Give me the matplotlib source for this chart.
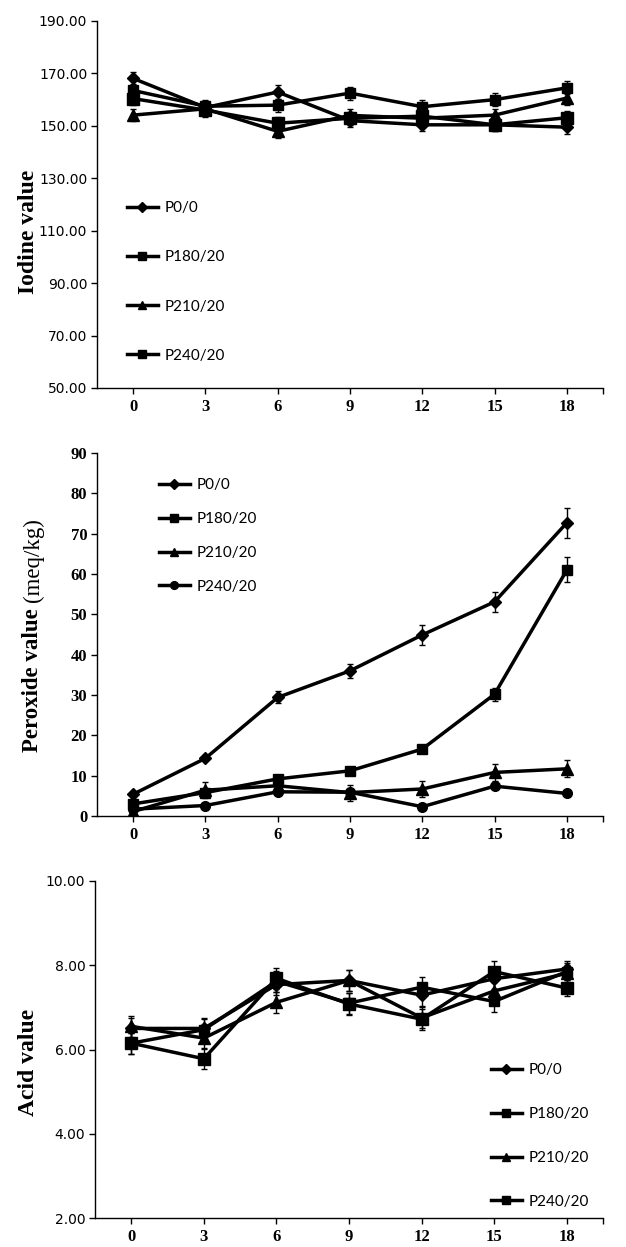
import matplotlib
matplotlib.use("Agg")
import matplotlib.pyplot as plt
from matplotlib.lines import Line2D
from matplotlib.offsetbox import TextArea, VPacker, AnchoredOffsetbox

W, H = 626, 1247

days = [0, 3, 6, 9, 12, 15, 18]
series = ["P0/0", "P180/20", "P210/20", "P240/20"]

# Iodine value
iod_p0 = [168.1, 157.0, 162.9, 152.0, 150.4, 150.4, 149.5]
iod_p180 = [163.5, 157.5, 157.9, 162.5, 157.3, 160.0, 164.5]
iod_p210 = [154.1, 156.5, 147.9, 154.0, 152.9, 154.1, 160.6]
iod_p240 = [160.4, 156.0, 151.0, 152.9, 153.7, 150.4, 153.1]
iod_err = [2.4, 2.5, 2.5, 2.5, 2.5, 2.5, 2.5]

# Peroxide value
per_p0 = [5.4, 14.3, 29.4, 36.0, 44.9, 53.1, 72.7]
per_p180 = [3.0, 5.8, 9.2, 11.2, 16.6, 30.2, 61.0]
per_p210 = [1.1, 6.4, 7.5, 5.8, 6.7, 10.8, 11.7]
per_p240 = [1.7, 2.6, 6.0, 5.9, 2.3, 7.4, 5.6]
per_p0_err = [0.4, 0.5, 1.5, 1.8, 2.4, 2.5, 3.7]
per_p180_err = [0.4, 0.4, 0.5, 0.5, 0.6, 1.6, 3.1]
per_p210_err = [0.5, 2.0, 1.0, 2.0, 2.1, 2.2, 2.1]
per_p240_err = [0.3, 0.3, 0.4, 0.4, 0.3, 0.4, 0.3]

# Acid value
acid_p0 = [6.50, 6.50, 7.54, 7.64, 7.29, 7.68, 7.91]
acid_p180 = [6.15, 6.47, 7.62, 7.10, 7.48, 7.14, 7.85]
acid_p210 = [6.55, 6.27, 7.12, 7.64, 6.75, 7.39, 7.81]
acid_p240 = [6.15, 5.78, 7.69, 7.08, 6.72, 7.85, 7.46]
acid_err = [0.25, 0.25, 0.25, 0.25, 0.25, 0.25, 0.2]

fig = plt.figure(figsize=(W / 100, H / 100), dpi=100)


def add_ax(left, right, top, bottom):
    return fig.add_axes([left / W, 1 - bottom / H, (right - left) / W, (bottom - top) / H])


serif_bold = dict(family="Liberation Serif", weight="bold")


def style(ax, ylim, yticks, yfmt, yfont):
    ax.set_xlim(-1.5, 19.5)
    ax.set_ylim(*ylim)
    ax.set_xticks(days)
    ax.set_xticks([19.5], minor=True)
    ax.set_xticklabels([str(d) for d in days], fontsize=12, **serif_bold)
    ax.set_yticks(yticks)
    ax.set_yticklabels([yfmt.format(v) for v in yticks], **yfont)
    for s in ("top", "right"):
        ax.spines[s].set_visible(False)
    for s in ("left", "bottom"):
        ax.spines[s].set_linewidth(1.0)
    ax.tick_params(axis="both", which="both", direction="out", length=4, width=1, colors="black")
    ax.tick_params(axis="x", pad=4)
    ax.tick_params(axis="y", pad=3)


def draw(ax, ys, errs, markers, sizes):
    for y, e, m, ms, lab in zip(ys, errs, markers, sizes, series):
        ax.errorbar(days, y, yerr=e, fmt="none", ecolor="black", elinewidth=1.0,
                    capsize=2.5, capthick=1.0, zorder=2)
        ax.plot(days, y, color="black", lw=2.5, marker=m, ms=ms, mfc="black",
                mec="black", label=lab, zorder=3)


def legend(ax, markers, sizes, left, center, spacing):
    handles = [Line2D([0], [0], color="black", lw=2.5, marker=m, ms=ms * 0.8)
               for m, ms in zip(markers, sizes)]
    ax.legend(handles, series, loc="center left",
              bbox_to_anchor=(left / W, 1 - center / H), bbox_transform=fig.transFigure,
              frameon=False, prop=dict(family="Lato", size=11), labelspacing=spacing,
              handlelength=2.0, handletextpad=0.45, borderpad=0, borderaxespad=0)


# Panel 1
ax1 = add_ax(97, 603, 21, 388)
m1 = ["D", "s", "^", "s"]
s1 = [6, 7, 8, 8]
draw(ax1, [iod_p0, iod_p180, iod_p210, iod_p240], [iod_err] * 4, m1, s1)
style(ax1, (50, 190), [50, 70, 90, 110, 130, 150, 170, 190], "{:.2f}",
      dict(family="DejaVu Sans", size=10))
legend(ax1, m1, s1, 127, 282, 2.3)
fig.text(28 / W, 1 - 232 / H, "Iodine value", rotation=90, ha="center", va="center",
         fontsize=17, **serif_bold)

# Panel 2
ax2 = add_ax(97, 603, 453, 816)
m2 = ["D", "s", "^", "o"]
s2 = [6, 7, 8, 7]
draw(ax2, [per_p0, per_p180, per_p210, per_p240],
     [per_p0_err, per_p180_err, per_p210_err, per_p240_err], m2, s2)
style(ax2, (0, 90), list(range(0, 91, 10)), "{:d}",
      dict(family="Liberation Serif", weight="bold", size=12))
legend(ax2, m2, s2, 159, 536, 1.3)
ta1 = TextArea("Peroxide value ", textprops=dict(fontsize=16.5, family="Liberation Serif",
                                                 weight="bold", rotation=90))
ta2 = TextArea("(meq/kg)", textprops=dict(fontsize=16.5, family="Liberation Serif",
                                          rotation=90))
box = VPacker(children=[ta2, ta1], align="center", pad=0, sep=0)
ab = AnchoredOffsetbox(loc="center", child=box, frameon=False,
                       bbox_to_anchor=(33 / W, 1 - 635 / H), bbox_transform=fig.transFigure,
                       borderpad=0, pad=0)
fig.add_artist(ab)

# Panel 3
ax3 = add_ax(95, 603, 881, 1218)
m3 = ["D", "s", "^", "s"]
s3 = [6, 7, 8, 8]
draw(ax3, [acid_p0, acid_p180, acid_p210, acid_p240], [acid_err] * 4, m3, s3)
style(ax3, (2, 10), [2, 4, 6, 8, 10], "{:.2f}", dict(family="DejaVu Sans", size=10))
legend(ax3, m3, s3, 491, 1136, 1.95)
fig.text(28 / W, 1 - 1062 / H, "Acid value", rotation=90, ha="center", va="center",
         fontsize=17, **serif_bold)

fig.savefig("out.png", dpi=100)
